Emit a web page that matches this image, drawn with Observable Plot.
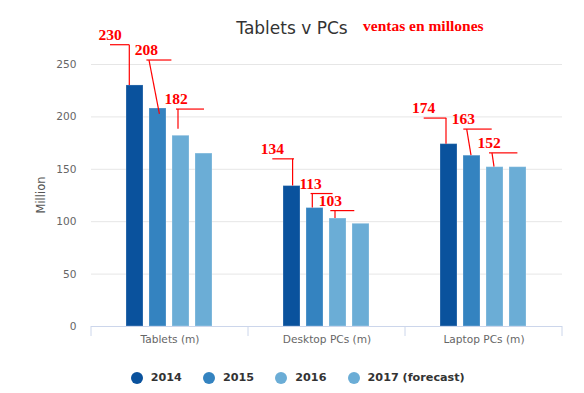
<!DOCTYPE html>
<html>
<head>
<meta charset="utf-8">
<script src="https://cdn.jsdelivr.net/npm/d3@7"></script>
<script src="https://cdn.jsdelivr.net/npm/@observablehq/plot@0.6"></script>
<style>
  body { margin: 0; background: #fff; }
  #wrap { position: relative; width: 584px; height: 393px; overflow: hidden; font-family: "DejaVu Sans", sans-serif; }
  #wrap svg { display: block; position: absolute; left: 0; top: 0; }
  #title { position: absolute; left: 0; width: 584px; top: 19.6px; text-align: center; font-size: 17px; line-height: 17px; color: #333; }
  #sub { position: absolute; left: 363px; top: 18px; font-family: "Liberation Serif", serif; font-weight: bold; font-size: 15.5px; line-height: 15.5px; color: #f00; white-space: nowrap; }
  #legend { position: absolute; left: 130.7px; top: 371px; display: flex; font-weight: bold; font-size: 11.2px; line-height: 14px; color: #333; }
  .item { display: flex; align-items: center; white-space: nowrap; }
  .item .dot { width: 12px; height: 12px; border-radius: 50%; margin-right: 8px; }
</style>
</head>
<body>
<div id="wrap">
  <div id="title">Tablets v PCs</div>
  <div id="sub">ventas en millones</div>
  <div id="legend"></div>
</div>
<script>
// ---- data ----
const categories = ["Tablets (m)", "Desktop PCs (m)", "Laptop PCs (m)"];
const years = ["2014", "2015", "2016", "2017 (forecast)"];
const sales2014 = [230, 134, 174];
const sales2015 = [208, 113, 163];
const sales2016 = [182, 103, 152];
const sales2017 = [165, 98, 152];
const yTicks = [0, 50, 100, 150, 200, 250];
const yTitle = "Million";
const colors = ["#0a529d", "#3483c0", "#6badd6", "#6badd6"];

// ---- hand-drawn red annotations ----
const noteCategory = [0, 0, 0, 1, 1, 1, 2, 2, 2];
const noteYear     = [0, 1, 2, 0, 1, 2, 0, 1, 2];
const noteText     = ["230", "208", "182", "134", "113", "103", "174", "163", "152"];
// annotation layout: elbow height (millions), line extents & leader ends (px from bar's left edge)
const noteBend  = [268.4, 253.8, 207, 159.5, 126.4, 110.1, 198.4, 187.9, 165.2];
const noteFoot  = [230, 202.5, 188.2, 134, 113, 103, 174, 163, 152];
const noteLeft  = [-16, -2.6, 4, -10.7, 4.6, 1.3, -16.3, 0.3, 3];
const noteRight = [3.3, 22.4, 32, 11, 26.6, 25.3, 6.3, 28.7, 31.4];
const noteTopX  = [3.3, 0, 6, 9.6, 6.3, 6, 6, 3.7, 6];
const noteFootX = [3.3, 10.4, 6, 9.6, 6.3, 6, 6, 8, 8];

const series = [sales2014, sales2015, sales2016, sales2017];
const rows = categories.flatMap((c, i) => years.map((yr, j) => ({category: c, year: yr, value: series[j][i]})));

const chart = Plot.plot({
  width: 584,
  height: 355,
  marginTop: 64,
  marginBottom: 29,
  marginLeft: 90,
  marginRight: 21,
  style: {fontFamily: "DejaVu Sans, sans-serif", fontSize: "10.6px", color: "#666", background: "transparent", overflow: "visible"},
  fx: {domain: categories, padding: 0, label: null},
  x: {domain: years, paddingInner: 0.24, paddingOuter: 1.44, axis: null},
  y: {domain: [0, 250], label: null},
  color: {domain: years, range: colors},
  marks: [
    Plot.ruleY(yTicks.slice(1), {stroke: "#e6e6e6", strokeWidth: 1}),
    Plot.barY(rows, {fx: "category", x: "year", y: "value", fill: "year", stroke: "#fff", strokeOpacity: 0.25, strokeWidth: 1}),
    Plot.ruleY([0], {stroke: "#ccd6eb", strokeWidth: 1}),
    Plot.axisY(yTicks, {tickSize: 0, tickPadding: 15, label: null, color: "#666"}),
    Plot.axisFx({anchor: "bottom", tickSize: 0, tickPadding: 9, label: null, color: "#666"})
  ]
});

document.getElementById("wrap").prepend(chart);

// ---- category boundary ticks, axis title and annotations, via the plot's scales ----
const svg = d3.select(chart);
const fx = chart.scale("fx"), xs = chart.scale("x"), ys = chart.scale("y");
const x0 = xs.range[0];
const barLeft = (ci, yi) => fx.apply(categories[ci]) + xs.apply(years[yi]) - x0;

const y0 = ys.apply(0);
const edges = categories.map(c => fx.apply(c)).concat([fx.apply(categories[categories.length - 1]) + fx.bandwidth]);
svg.append("g").selectAll("line").data(edges).join("line")
  .attr("x1", d => d).attr("x2", d => d)
  .attr("y1", y0).attr("y2", y0 + 10)
  .attr("stroke", "#ccd6eb").attr("stroke-width", 1);

const yMid = (ys.apply(0) + ys.apply(250)) / 2;
svg.append("text")
  .attr("transform", `translate(45,${yMid}) rotate(-90)`)
  .attr("text-anchor", "middle")
  .attr("fill", "#555")
  .style("font-size", "11.5px")
  .text(yTitle);

const g = svg.append("g").attr("fill", "none").attr("stroke", "#f00").attr("stroke-width", 1.2);
const t = svg.append("g").attr("fill", "#f00")
  .style("font-family", "'Liberation Serif', serif").style("font-weight", "bold").style("font-size", "15.5px");
noteText.forEach((label, k) => {
  const bl = barLeft(noteCategory[k], noteYear[k]);
  const yb = ys.apply(noteBend[k]);
  const yf = ys.apply(noteFoot[k]);
  g.append("line").attr("x1", bl + noteLeft[k]).attr("x2", bl + noteRight[k]).attr("y1", yb).attr("y2", yb);
  g.append("line").attr("x1", bl + noteTopX[k]).attr("x2", bl + noteFootX[k]).attr("y1", yb).attr("y2", yf);
  t.append("text").attr("x", bl + noteLeft[k]).attr("y", yb - 5).text(label);
});

// ---- legend ----
const legend = document.getElementById("legend");
years.forEach((yr, i) => {
  const it = document.createElement("div");
  it.className = "item";
  if (i < years.length - 1) it.style.width = "72.3px";
  const dot = document.createElement("span");
  dot.className = "dot";
  dot.style.background = colors[i];
  const lab = document.createElement("span");
  lab.textContent = yr;
  it.append(dot, lab);
  legend.append(it);
});
</script>
</body>
</html>
